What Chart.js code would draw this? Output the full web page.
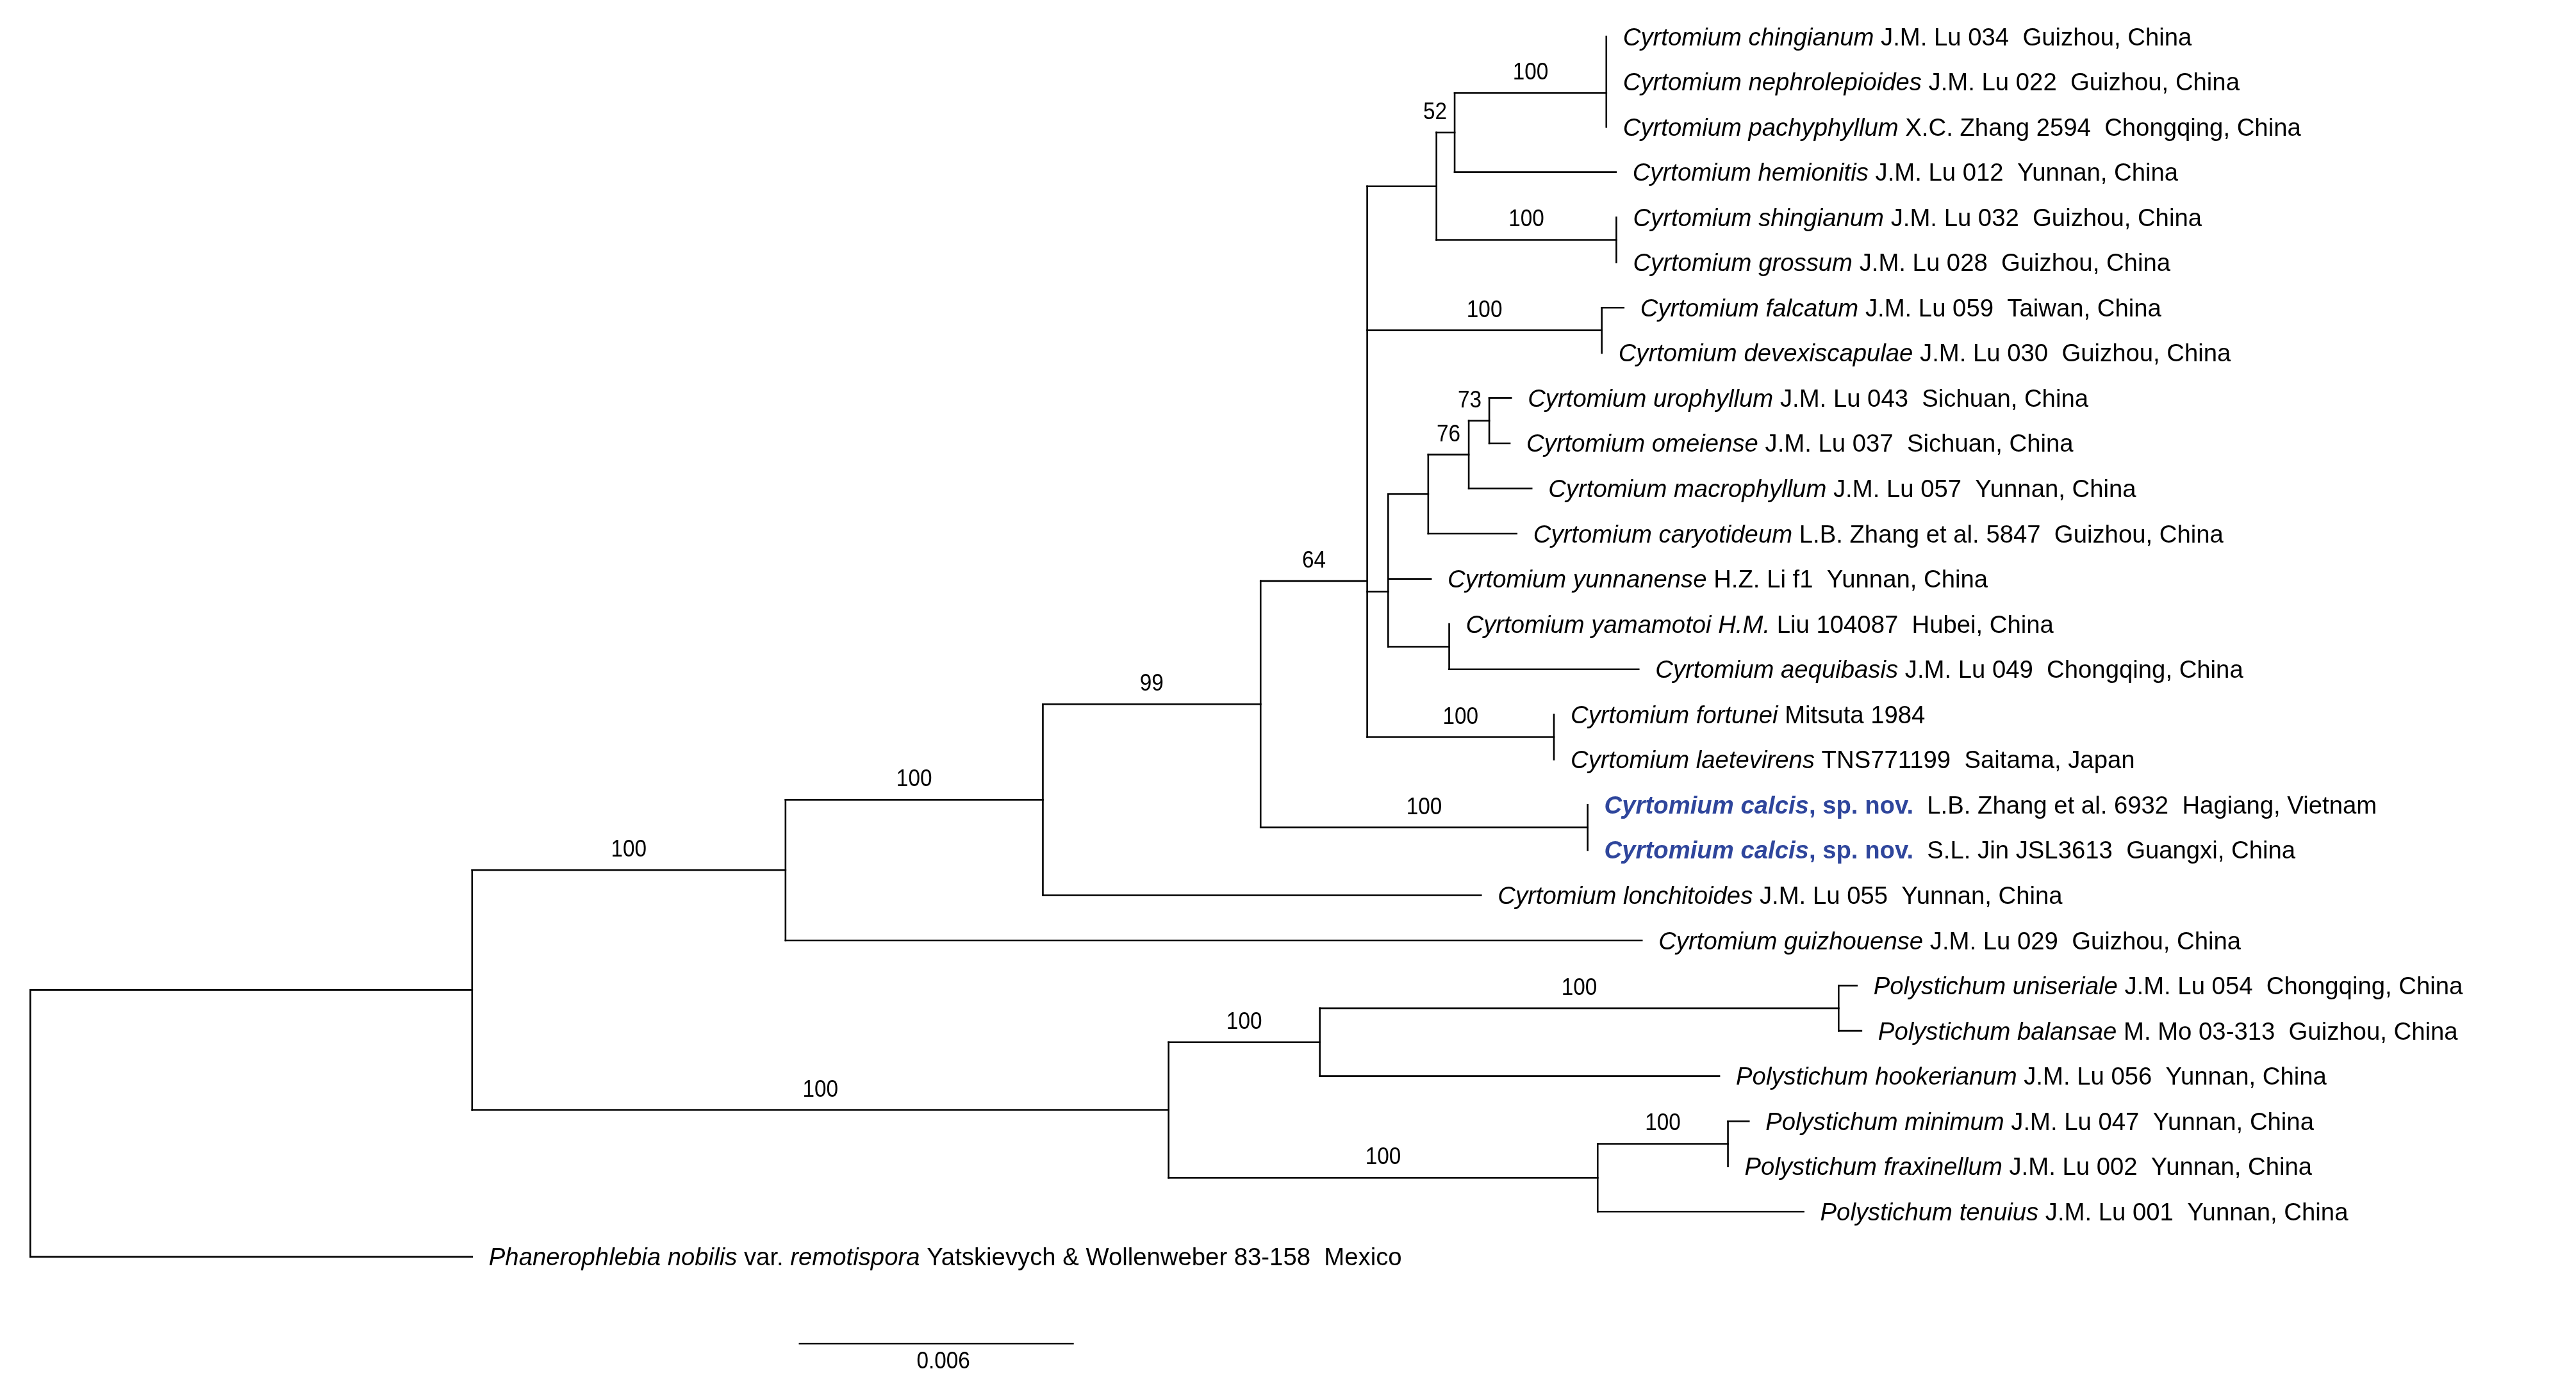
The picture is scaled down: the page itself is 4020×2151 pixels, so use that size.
<!DOCTYPE html>
<html>
<head>
<meta charset="utf-8">
<script src="https://cdn.jsdelivr.net/npm/chart.js@4.4.1/dist/chart.umd.min.js"></script>
<style>
  html, body { margin: 0; padding: 0; background: #fff; }
  #tree { display: block; }
</style>
</head>
<body>
<canvas id="tree" width="4020" height="2151"></canvas>
<script>
// leaf labels, top to bottom. _italic_  ^bold italic blue^  ~bold blue~
const taxa = [
    '_Cyrtomium chingianum_ J.M. Lu 034  Guizhou, China',
    '_Cyrtomium nephrolepioides_ J.M. Lu 022  Guizhou, China',
    '_Cyrtomium pachyphyllum_ X.C. Zhang 2594  Chongqing, China',
    '_Cyrtomium hemionitis_ J.M. Lu 012  Yunnan, China',
    '_Cyrtomium shingianum_ J.M. Lu 032  Guizhou, China',
    '_Cyrtomium grossum_ J.M. Lu 028  Guizhou, China',
    '_Cyrtomium falcatum_ J.M. Lu 059  Taiwan, China',
    '_Cyrtomium devexiscapulae_ J.M. Lu 030  Guizhou, China',
    '_Cyrtomium urophyllum_ J.M. Lu 043  Sichuan, China',
    '_Cyrtomium omeiense_ J.M. Lu 037  Sichuan, China',
    '_Cyrtomium macrophyllum_ J.M. Lu 057  Yunnan, China',
    '_Cyrtomium caryotideum_ L.B. Zhang et al. 5847  Guizhou, China',
    '_Cyrtomium yunnanense_ H.Z. Li f1  Yunnan, China',
    '_Cyrtomium yamamotoi H.M._ Liu 104087  Hubei, China',
    '_Cyrtomium aequibasis_ J.M. Lu 049  Chongqing, China',
    '_Cyrtomium fortunei_ Mitsuta 1984',
    '_Cyrtomium laetevirens_ TNS771199  Saitama, Japan',
    '^Cyrtomium calcis^~, sp. nov.~  L.B. Zhang et al. 6932  Hagiang, Vietnam',
    '^Cyrtomium calcis^~, sp. nov.~  S.L. Jin JSL3613  Guangxi, China',
    '_Cyrtomium lonchitoides_ J.M. Lu 055  Yunnan, China',
    '_Cyrtomium guizhouense_ J.M. Lu 029  Guizhou, China',
    '_Polystichum uniseriale_ J.M. Lu 054  Chongqing, China',
    '_Polystichum balansae_ M. Mo 03-313  Guizhou, China',
    '_Polystichum hookerianum_ J.M. Lu 056  Yunnan, China',
    '_Polystichum minimum_ J.M. Lu 047  Yunnan, China',
    '_Polystichum fraxinellum_ J.M. Lu 002  Yunnan, China',
    '_Polystichum tenuius_ J.M. Lu 001  Yunnan, China',
    '_Phanerophlebia nobilis_ var. _remotispora_ Yatskievych & Wollenweber 83-158  Mexico'
];

// distance from root to each leaf (substitutions/site)
const leafDepth = [
    0.03460, 0.03460, 0.03460, 0.03481, 0.03482, 0.03482, 0.03498, 0.03450,
    0.03251, 0.03248, 0.03296, 0.03263, 0.03075, 0.03115, 0.03531, 0.03345,
    0.03345, 0.03419, 0.03419, 0.03185, 0.03538, 0.04010, 0.04020, 0.03708,
    0.03773, 0.03727, 0.03893, 0.00970
];

// internal nodes: depth from root, children (number = leaf, 'n#' = node), bootstrap
const nodeDepth = [
    0, 0.00970, 0.01658, 0.02223, 0.02701, 0.02935, 0.03087, 0.03127,
    0.03460, 0.03482, 0.03450, 0.02981, 0.03069, 0.03158, 0.03203, 0.03115,
    0.03345, 0.03419, 0.02499, 0.02831, 0.03970, 0.03441, 0.03727
];
const nodeKids = [
    ['n1', 27], ['n2', 'n18'], ['n3', 20], ['n4', 19], ['n5', 'n17'],
    ['n6', 'n10', 'n11', 'n16'], ['n7', 'n9'], ['n8', 3], [0, 1, 2], [4, 5],
    [6, 7], ['n12', 12, 'n15'], ['n13', 11], ['n14', 10], [8, 9], [13, 14],
    [15, 16], [17, 18], ['n19', 'n21'], ['n20', 23], [21, 22], ['n22', 26], [24, 25]
];
const nodeSupport = [
    null, null, 100, 100, 99, 64, null, 52, 100, 100, 100, null, null, 76, 73,
    null, 100, 100, 100, 100, 100, 100, 100
];

const SCALE_LEN = 0.006;
const SCALE_START = 0.01689;
const SCALE_ROW = 28.92;

const FONT = "'Liberation Sans', Arial, sans-serif";
const BLUE = '#2f469c';

function depthOf(ref) {
    return typeof ref === 'number' ? leafDepth[ref] : nodeDepth[+ref.slice(1)];
}
function rowOf(ref) {
    if (typeof ref === 'number') return ref;
    const kids = nodeKids[+ref.slice(1)];
    let acc = rowOf(kids[0]);
    for (let j = 1; j < kids.length; j++) acc = (acc + rowOf(kids[j])) / 2;
    return acc;
}
// parent lookup for support labels
const parentOf = {};
nodeKids.forEach((kids, i) => kids.forEach(k => { if (typeof k === 'string') parentOf[k] = i; }));

const branchStyle = { borderColor: '#000', borderWidth: 2.6, pointRadius: 0, showLine: true, borderCapStyle: 'square', fill: false };
const datasets = [];
nodeKids.forEach((kids, i) => {
    const rows = kids.map(rowOf);
    datasets.push({ ...branchStyle, data: [{ x: nodeDepth[i], y: Math.min(...rows) }, { x: nodeDepth[i], y: Math.max(...rows) }] });
    kids.forEach((k, j) => {
        if (depthOf(k) - nodeDepth[i] < 1e-6) return;
        datasets.push({ ...branchStyle, data: [{ x: nodeDepth[i], y: rows[j] }, { x: depthOf(k), y: rows[j] }] });
    });
});
datasets.push({ ...branchStyle, data: [{ x: SCALE_START, y: SCALE_ROW }, { x: SCALE_START + SCALE_LEN, y: SCALE_ROW }] });

function drawNarrow(ctx, text, x, y, align) {
    ctx.save();
    ctx.font = '37px ' + FONT;
    ctx.fillStyle = '#000';
    ctx.textBaseline = 'alphabetic';
    ctx.textAlign = align;
    ctx.translate(x, y);
    ctx.scale(0.9, 1);
    ctx.fillText(text, 0, 0);
    ctx.restore();
}

const labelPlugin = {
    id: 'treeLabels',
    afterDatasetsDraw(chart) {
        const ctx = chart.ctx, xs = chart.scales.x, ys = chart.scales.y;
        ctx.save();
        ctx.textBaseline = 'alphabetic';
        ctx.textAlign = 'left';
        taxa.forEach((label, i) => {
            let x = xs.getPixelForValue(leafDepth[i]) + 26;
            const y = ys.getPixelForValue(i) + 13.5;
            const parts = label.match(/_[^_]*_|\^[^^]*\^|~[^~]*~|[^_^~]+/g);
            parts.forEach(p => {
                let txt = p, font = '38.3px ' + FONT, color = '#000';
                if (p[0] === '_') { txt = p.slice(1, -1); font = 'italic 38.3px ' + FONT; }
                else if (p[0] === '^') { txt = p.slice(1, -1); font = 'italic bold 38.3px ' + FONT; color = BLUE; }
                else if (p[0] === '~') { txt = p.slice(1, -1); font = 'bold 38.3px ' + FONT; color = BLUE; }
                ctx.font = font;
                ctx.fillStyle = color;
                ctx.fillText(txt, x, y);
                x += ctx.measureText(txt).width;
            });
        });
        ctx.restore();

        // bootstrap values above the branch leading to each node
        nodeSupport.forEach((s, i) => {
            if (s === null) return;
            const x0 = xs.getPixelForValue(nodeDepth[parentOf['n' + i]]);
            const x1 = xs.getPixelForValue(nodeDepth[i]);
            const y = ys.getPixelForValue(rowOf('n' + i)) - 21;
            ctx.save();
            ctx.font = '37px ' + FONT;
            const w = ctx.measureText(String(s)).width * 0.9;
            ctx.restore();
            if (w + 10 > x1 - x0) drawNarrow(ctx, String(s), x1 - 12, y, 'right');
            else drawNarrow(ctx, String(s), (x0 + x1) / 2, y, 'center');
        });

        // scale bar caption
        const sx = (xs.getPixelForValue(SCALE_START) + xs.getPixelForValue(SCALE_START + SCALE_LEN)) / 2 + 11;
        drawNarrow(ctx, String(SCALE_LEN), sx, ys.getPixelForValue(SCALE_ROW) + 39, 'center');
    }
};

new Chart(document.getElementById('tree'), {
    type: 'scatter',
    data: { datasets },
    options: {
        responsive: false,
        animation: false,
        devicePixelRatio: 1,
        layout: { padding: 0 },
        plugins: { legend: { display: false }, tooltip: { enabled: false } },
        scales: {
            x: { type: 'linear', display: false, min: -0.000665, max: 0.055888 },
            y: { type: 'linear', display: false, reverse: true, min: -0.808, max: 29.681 }
        }
    },
    plugins: [labelPlugin]
});
</script>
</body>
</html>
